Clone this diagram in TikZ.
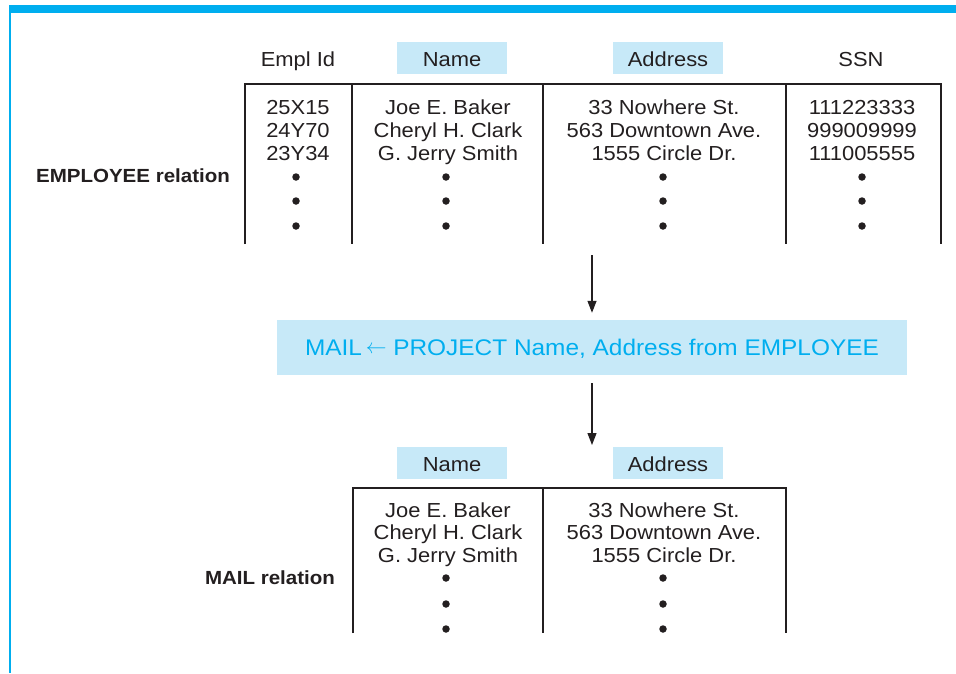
\documentclass[tikz,border=0pt]{standalone}
\usepackage{fontspec}
\setmainfont{Liberation Sans}[FakeStretch=1.08]
\usetikzlibrary{arrows.meta}
\definecolor{cy}{RGB}{0,174,239}
\definecolor{lb}{RGB}{199,233,248}
\definecolor{ink}{RGB}{35,31,32}
\begin{document}
\begin{tikzpicture}[x=1pt,y=-1pt,
  txt/.style={font=\fontsize{20.3}{23}\selectfont, text=ink, inner sep=0pt, anchor=base},
  hdr/.style={font=\fontsize{20.3}{23}\selectfont, text=ink, inner sep=0pt, fill=lb,
              minimum width=110pt, minimum height=32pt, text height=17pt, text depth=0pt},
  lbl/.style={font=\fontsize{19}{22}\selectfont\bfseries, text=ink, inner sep=0pt, anchor=base},
  tabrule/.style={draw=ink, line width=1.4pt},
  dotmark/.style={circle, fill=ink, inner sep=0pt, minimum size=7.5pt},
  arr/.style={draw=ink, line width=1.2pt, -{Triangle[length=12pt,width=9pt]}}]
\useasboundingbox (0,0) rectangle (956,673);
\fill[white] (0,0) rectangle (956,673);
% frame
\fill[cy] (9,5) rectangle (956,12.5);
\fill[cy] (9,5) rectangle (11,673);

% ===== EMPLOYEE relation =====
\node[txt] (hId) at (298,66.5) {Empl Id};
\node[hdr] (hName) at (452,58) {Name};
\node[hdr] (hAddr) at (668,58) {Address};
\node[txt] (hSSN) at (861,66.5) {SSN};

\draw[tabrule] (245,244) -- (245,84) -- (941,84) -- (941,244);
\draw[tabrule] (352,84) -- (352,244);
\draw[tabrule] (543,84) -- (543,244);
\draw[tabrule] (786,84) -- (786,244);

\foreach \t [count=\i] in {25X15,24Y70,23Y34}
  \node[txt] (cId\i) at (298,91+23*\i) {\t};
\foreach \t [count=\i] in {Joe E. Baker,Cheryl H. Clark,G. Jerry Smith}
  \node[txt] (cName\i) at (448,91+23*\i) {\t};
\foreach \t [count=\i] in {33 Nowhere St.,563 Downtown Ave.,1555 Circle Dr.}
  \node[txt] (cAddr\i) at (664,91+23*\i) {\t};
\foreach \t [count=\i] in {111223333,999009999,111005555}
  \node[txt] (cSSN\i) at (862,91+23*\i) {\t};
\foreach \x/\n in {296/a,446/b,663/c,862/d}
  \foreach \y in {177,201,226}
    \node[dotmark] (u\n\y) at (\x,\y) {};

\node[lbl] (empl) at (133,182) {EMPLOYEE relation};

% ===== operation =====
\node[fill=lb, minimum width=630pt, minimum height=55pt, inner sep=0pt,
      text height=15pt, text depth=0pt,
      text=cy, font=\fontsize{22.6}{26}\selectfont] (mail) at (592,347.5)
      {MAIL\,\raisebox{2pt}{$\leftarrow$} PROJECT Name, Address from EMPLOYEE};
\coordinate (a1s) at (592,255);
\coordinate (a2e) at (592,445);
\draw[arr, shorten >=7pt] (a1s) -- (mail.north);
\draw[arr, shorten <=8pt] (mail.south) -- (a2e);

% ===== MAIL relation =====
\node[hdr] (mName) at (452,463) {Name};
\node[hdr] (mAddr) at (668,463) {Address};

\draw[tabrule] (353,633) -- (353,488) -- (786,488) -- (786,633);
\draw[tabrule] (543,488) -- (543,633);

\foreach \t [count=\i] in {Joe E. Baker,Cheryl H. Clark,G. Jerry Smith}
  \node[txt] (mcName\i) at (448,494.5+22.5*\i) {\t};
\foreach \t [count=\i] in {33 Nowhere St.,563 Downtown Ave.,1555 Circle Dr.}
  \node[txt] (mcAddr\i) at (664,494.5+22.5*\i) {\t};
\foreach \x/\n in {446/b,663/c}
  \foreach \y in {578,604,629}
    \node[dotmark] (l\n\y) at (\x,\y) {};

\node[lbl] (mrel) at (270,584) {MAIL relation};
\end{tikzpicture}
\end{document}
